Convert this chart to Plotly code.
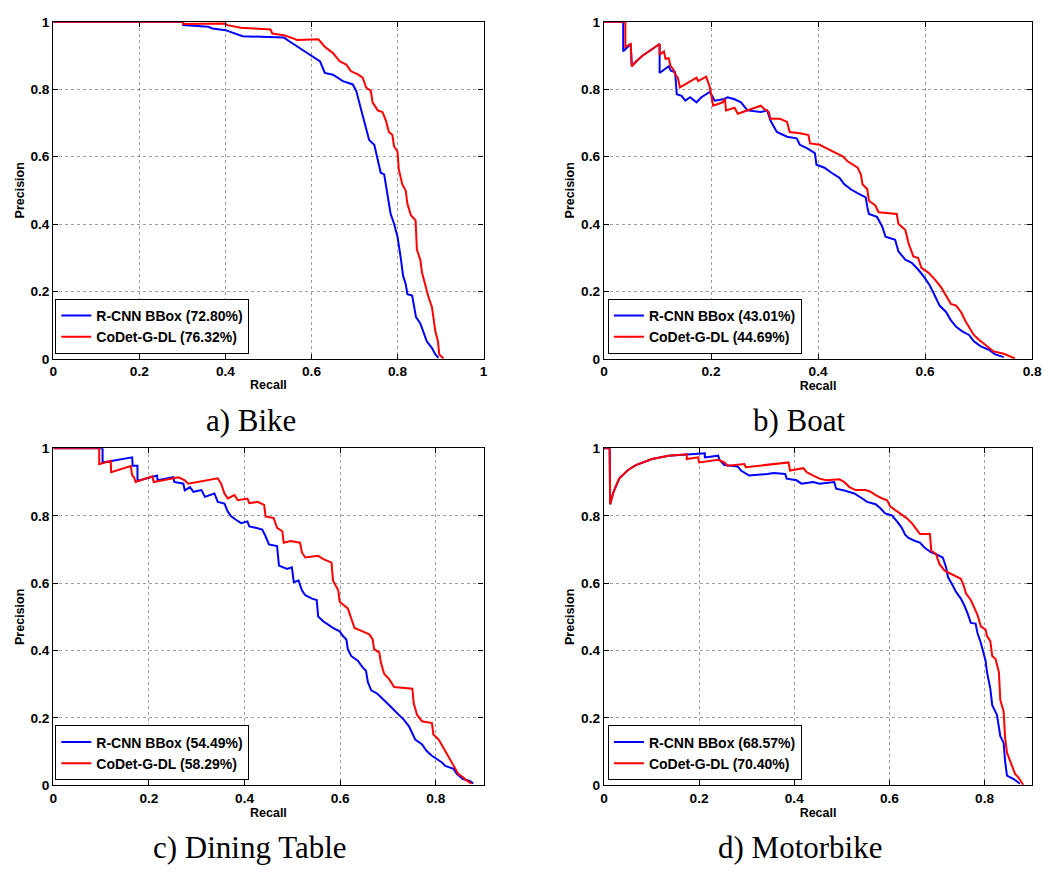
import plotly.graph_objects as go

# ---------------- data ----------------
series_names = ["R-CNN BBox", "CoDet-G-DL"]
ap_bike = ["72.80%", "76.32%"]
ap_boat = ["43.01%", "44.69%"]
ap_table = ["54.49%", "58.29%"]
ap_motor = ["68.57%", "70.40%"]
captions = ["a) Bike", "b) Boat", "c) Dining Table", "d) Motorbike"]

bike_rcnn_recall = [0, 0.302, 0.302, 0.36, 0.37, 0.40, 0.44, 0.536, 0.551, 0.574, 0.6, 0.62, 0.631, 0.65, 0.673, 0.696, 0.704, 0.712, 0.719, 0.727, 0.734, 0.746, 0.754, 0.761, 0.769, 0.777, 0.784, 0.792, 0.8, 0.807, 0.813, 0.819, 0.823, 0.834, 0.838, 0.843, 0.853, 0.861, 0.868, 0.88, 0.888, 0.895]
bike_rcnn_precision = [1, 1, 0.99, 0.985, 0.98, 0.975, 0.957, 0.953, 0.94, 0.921, 0.897, 0.882, 0.848, 0.843, 0.824, 0.814, 0.795, 0.751, 0.722, 0.683, 0.649, 0.635, 0.586, 0.552, 0.547, 0.479, 0.43, 0.401, 0.362, 0.304, 0.246, 0.222, 0.192, 0.188, 0.163, 0.124, 0.105, 0.076, 0.052, 0.032, 0.013, 0.003]
bike_codet_recall = [0, 0.302, 0.302, 0.398, 0.405, 0.436, 0.467, 0.505, 0.509, 0.536, 0.559, 0.566, 0.616, 0.631, 0.65, 0.666, 0.681, 0.692, 0.708, 0.719, 0.727, 0.738, 0.742, 0.754, 0.765, 0.773, 0.78, 0.788, 0.792, 0.8, 0.803, 0.811, 0.819, 0.823, 0.831, 0.842, 0.845, 0.853, 0.857, 0.865, 0.872, 0.88, 0.884, 0.888, 0.894, 0.897, 0.907]
bike_codet_precision = [1, 1, 0.993, 0.995, 0.99, 0.982, 0.98, 0.977, 0.965, 0.96, 0.95, 0.946, 0.948, 0.926, 0.907, 0.882, 0.873, 0.853, 0.844, 0.834, 0.805, 0.795, 0.761, 0.737, 0.732, 0.707, 0.673, 0.664, 0.63, 0.615, 0.562, 0.518, 0.499, 0.46, 0.426, 0.411, 0.324, 0.294, 0.256, 0.217, 0.183, 0.154, 0.12, 0.081, 0.052, 0.013, 0.001]

boat_rcnn_recall = [0, 0.036, 0.036, 0.05, 0.052, 0.06, 0.072, 0.087, 0.104, 0.104, 0.121, 0.125, 0.133, 0.136, 0.145, 0.152, 0.161, 0.173, 0.182, 0.198, 0.207, 0.225, 0.231, 0.244, 0.256, 0.268, 0.293, 0.305, 0.311, 0.323, 0.342, 0.36, 0.366, 0.379, 0.394, 0.397, 0.412, 0.425, 0.44, 0.449, 0.461, 0.477, 0.489, 0.492, 0.495, 0.51, 0.52, 0.526, 0.544, 0.55, 0.563, 0.575, 0.587, 0.599, 0.609, 0.618, 0.627, 0.639, 0.648, 0.658, 0.67, 0.682, 0.691, 0.704, 0.719, 0.731, 0.747]
boat_rcnn_precision = [1, 1, 0.912, 0.934, 0.868, 0.882, 0.899, 0.916, 0.934, 0.848, 0.868, 0.855, 0.85, 0.785, 0.78, 0.766, 0.776, 0.761, 0.776, 0.792, 0.766, 0.771, 0.776, 0.77, 0.761, 0.737, 0.732, 0.737, 0.707, 0.673, 0.659, 0.654, 0.635, 0.625, 0.61, 0.576, 0.567, 0.552, 0.537, 0.518, 0.503, 0.489, 0.479, 0.45, 0.43, 0.421, 0.392, 0.362, 0.353, 0.319, 0.294, 0.285, 0.265, 0.241, 0.217, 0.188, 0.158, 0.139, 0.115, 0.095, 0.081, 0.071, 0.052, 0.037, 0.027, 0.013, 0.005]
boat_codet_recall = [0, 0.04, 0.04, 0.05, 0.052, 0.06, 0.072, 0.087, 0.104, 0.104, 0.112, 0.115, 0.121, 0.124, 0.13, 0.133, 0.138, 0.142, 0.173, 0.176, 0.191, 0.198, 0.204, 0.222, 0.226, 0.228, 0.244, 0.25, 0.293, 0.299, 0.308, 0.311, 0.329, 0.342, 0.347, 0.366, 0.382, 0.385, 0.403, 0.415, 0.428, 0.446, 0.455, 0.464, 0.474, 0.48, 0.483, 0.492, 0.495, 0.507, 0.513, 0.547, 0.55, 0.563, 0.569, 0.578, 0.587, 0.593, 0.606, 0.618, 0.63, 0.639, 0.648, 0.658, 0.667, 0.676, 0.685, 0.691, 0.701, 0.719, 0.728, 0.747, 0.759, 0.768]
boat_codet_precision = [1, 1, 0.925, 0.934, 0.868, 0.882, 0.899, 0.916, 0.934, 0.902, 0.912, 0.89, 0.892, 0.87, 0.858, 0.844, 0.834, 0.805, 0.834, 0.824, 0.837, 0.805, 0.751, 0.761, 0.771, 0.737, 0.745, 0.727, 0.751, 0.742, 0.732, 0.712, 0.712, 0.703, 0.673, 0.669, 0.664, 0.639, 0.635, 0.625, 0.615, 0.601, 0.586, 0.576, 0.567, 0.547, 0.518, 0.503, 0.469, 0.455, 0.435, 0.43, 0.401, 0.382, 0.343, 0.304, 0.299, 0.27, 0.256, 0.236, 0.212, 0.188, 0.163, 0.158, 0.139, 0.11, 0.086, 0.071, 0.056, 0.032, 0.022, 0.015, 0.008, 0.001]

table_rcnn_recall = [0, 0.103, 0.103, 0.165, 0.166, 0.176, 0.176, 0.217, 0.218, 0.251, 0.253, 0.272, 0.275, 0.286, 0.293, 0.31, 0.317, 0.337, 0.344, 0.358, 0.365, 0.372, 0.382, 0.393, 0.406, 0.41, 0.423, 0.437, 0.444, 0.451, 0.468, 0.472, 0.489, 0.499, 0.503, 0.513, 0.52, 0.527, 0.541, 0.551, 0.554, 0.565, 0.575, 0.585, 0.599, 0.606, 0.613, 0.616, 0.623, 0.637, 0.647, 0.654, 0.658, 0.665, 0.678, 0.689, 0.699, 0.709, 0.72, 0.733, 0.744, 0.751, 0.757, 0.771, 0.781, 0.792, 0.802, 0.813, 0.82, 0.837, 0.844, 0.857, 0.868, 0.875, 0.878]
table_rcnn_precision = [1, 1, 0.958, 0.973, 0.948, 0.948, 0.903, 0.919, 0.905, 0.914, 0.9, 0.895, 0.875, 0.885, 0.871, 0.876, 0.856, 0.866, 0.841, 0.836, 0.812, 0.798, 0.788, 0.778, 0.783, 0.768, 0.764, 0.759, 0.739, 0.715, 0.71, 0.652, 0.642, 0.647, 0.603, 0.608, 0.579, 0.564, 0.554, 0.55, 0.501, 0.486, 0.477, 0.467, 0.457, 0.443, 0.433, 0.404, 0.384, 0.37, 0.35, 0.34, 0.306, 0.282, 0.272, 0.258, 0.243, 0.229, 0.214, 0.195, 0.175, 0.156, 0.136, 0.122, 0.102, 0.088, 0.078, 0.068, 0.058, 0.049, 0.034, 0.019, 0.015, 0.01, 0.005]
table_codet_recall = [0, 0.096, 0.096, 0.12, 0.121, 0.162, 0.165, 0.169, 0.172, 0.207, 0.21, 0.262, 0.275, 0.282, 0.344, 0.351, 0.358, 0.365, 0.379, 0.386, 0.406, 0.41, 0.427, 0.441, 0.444, 0.461, 0.468, 0.479, 0.482, 0.496, 0.516, 0.52, 0.527, 0.554, 0.565, 0.582, 0.585, 0.596, 0.599, 0.616, 0.623, 0.63, 0.647, 0.661, 0.668, 0.671, 0.682, 0.685, 0.692, 0.702, 0.713, 0.751, 0.754, 0.761, 0.771, 0.792, 0.795, 0.806, 0.816, 0.826, 0.837, 0.847, 0.857, 0.864, 0.875]
table_codet_precision = [1, 1, 0.953, 0.963, 0.929, 0.947, 0.919, 0.914, 0.9, 0.917, 0.9, 0.914, 0.905, 0.895, 0.911, 0.895, 0.866, 0.851, 0.861, 0.846, 0.851, 0.837, 0.841, 0.832, 0.798, 0.793, 0.764, 0.754, 0.72, 0.725, 0.72, 0.691, 0.676, 0.681, 0.671, 0.661, 0.608, 0.579, 0.545, 0.525, 0.496, 0.467, 0.457, 0.448, 0.433, 0.404, 0.394, 0.365, 0.331, 0.316, 0.292, 0.287, 0.243, 0.209, 0.19, 0.185, 0.151, 0.136, 0.112, 0.088, 0.058, 0.034, 0.024, 0.015, 0.005]

motor_rcnn_recall = [0, 0.012, 0.013, 0.02, 0.032, 0.05, 0.067, 0.085, 0.101, 0.136, 0.177, 0.212, 0.212, 0.24, 0.243, 0.253, 0.267, 0.281, 0.288, 0.305, 0.343, 0.357, 0.381, 0.384, 0.405, 0.415, 0.44, 0.453, 0.484, 0.488, 0.505, 0.526, 0.543, 0.553, 0.571, 0.581, 0.591, 0.605, 0.616, 0.626, 0.633, 0.64, 0.654, 0.664, 0.674, 0.688, 0.698, 0.712, 0.719, 0.723, 0.733, 0.74, 0.75, 0.757, 0.764, 0.771, 0.781, 0.785, 0.792, 0.799, 0.802, 0.805, 0.812, 0.816, 0.826, 0.833, 0.84, 0.843, 0.847, 0.861, 0.871, 0.874]
motor_rcnn_precision = [1, 1, 0.834, 0.87, 0.91, 0.935, 0.95, 0.96, 0.968, 0.978, 0.982, 0.985, 0.973, 0.978, 0.965, 0.95, 0.948, 0.946, 0.934, 0.919, 0.924, 0.927, 0.924, 0.91, 0.905, 0.895, 0.9, 0.895, 0.9, 0.88, 0.875, 0.866, 0.851, 0.841, 0.834, 0.822, 0.807, 0.801, 0.783, 0.764, 0.744, 0.734, 0.725, 0.72, 0.705, 0.691, 0.686, 0.676, 0.647, 0.618, 0.593, 0.574, 0.554, 0.535, 0.511, 0.482, 0.48, 0.452, 0.423, 0.384, 0.37, 0.336, 0.287, 0.238, 0.209, 0.146, 0.126, 0.073, 0.029, 0.019, 0.01, 0.005]
motor_codet_recall = [0, 0.012, 0.013, 0.02, 0.032, 0.05, 0.067, 0.085, 0.101, 0.136, 0.174, 0.174, 0.198, 0.2, 0.24, 0.253, 0.26, 0.295, 0.298, 0.388, 0.391, 0.419, 0.426, 0.44, 0.453, 0.467, 0.495, 0.505, 0.516, 0.529, 0.55, 0.56, 0.571, 0.585, 0.595, 0.602, 0.612, 0.626, 0.636, 0.647, 0.654, 0.664, 0.685, 0.688, 0.698, 0.705, 0.716, 0.73, 0.75, 0.756, 0.761, 0.771, 0.778, 0.785, 0.792, 0.802, 0.805, 0.812, 0.816, 0.823, 0.83, 0.833, 0.84, 0.843, 0.847, 0.854, 0.864, 0.871, 0.878, 0.881]
motor_codet_precision = [1, 1, 0.834, 0.87, 0.91, 0.935, 0.95, 0.96, 0.968, 0.978, 0.982, 0.968, 0.973, 0.958, 0.966, 0.958, 0.948, 0.953, 0.944, 0.958, 0.934, 0.941, 0.929, 0.919, 0.91, 0.905, 0.908, 0.9, 0.885, 0.876, 0.876, 0.871, 0.861, 0.851, 0.846, 0.827, 0.817, 0.803, 0.793, 0.778, 0.764, 0.746, 0.746, 0.696, 0.686, 0.657, 0.637, 0.627, 0.613, 0.593, 0.569, 0.55, 0.525, 0.506, 0.472, 0.462, 0.443, 0.428, 0.384, 0.375, 0.336, 0.253, 0.219, 0.141, 0.097, 0.073, 0.034, 0.024, 0.01, 0.002]

x_ranges = [[0, 1], [0, 0.8], [0, 0.9], [0, 0.9]]

# ---------------- layout geometry ----------------
W, H = 1057, 873
panels_px = [  # left, right, top, bottom in pixels
    (50, 486, 15, 358),
    (608, 1042, 15, 358),
    (50, 486, 449, 792),
    (608, 1042, 449, 792),
]
legend_px = [(52, 353), (612, 353), (52, 787), (612, 787)]  # left, bottom
caption_px = [(250, 421), (806, 421), (249, 855), (807, 855)]

panel_data = [
    (bike_rcnn_recall, bike_rcnn_precision, bike_codet_recall, bike_codet_precision, ap_bike),
    (boat_rcnn_recall, boat_rcnn_precision, boat_codet_recall, boat_codet_precision, ap_boat),
    (table_rcnn_recall, table_rcnn_precision, table_codet_recall, table_codet_precision, ap_table),
    (motor_rcnn_recall, motor_rcnn_precision, motor_codet_recall, motor_codet_precision, ap_motor),
]

SANS = "Liberation Sans, Arial, Helvetica, sans-serif"
fig = go.Figure()
layout = {}
annotations = []

for i, (rx, ry, cx, cy, ap) in enumerate(panel_data):
    n = "" if i == 0 else str(i + 1)
    xa, ya = "x" + n, "y" + n
    leg = "legend" + n
    fig.add_trace(go.Scatter(x=rx, y=ry, mode="lines", xaxis=xa, yaxis=ya,
                             line=dict(color="#0000ff", width=2),
                             name=f"{series_names[0]} ({ap[0]})", legend=leg))
    fig.add_trace(go.Scatter(x=cx, y=cy, mode="lines", xaxis=xa, yaxis=ya,
                             line=dict(color="#ff0000", width=2),
                             name=f"{series_names[1]} ({ap[1]})", legend=leg))
    l, r, t, b = panels_px[i]
    common = dict(showline=True, linecolor="black", linewidth=1.2, mirror="ticks",
                  ticks="inside", ticklen=5, tickcolor="black", tickwidth=1,
                  showgrid=True, gridcolor="rgba(0,0,0,0.38)", griddash="dot", gridwidth=1,
                  zeroline=False, dtick=0.2, tick0=0,
                  tickfont=dict(family=SANS, size=13.7, color="black", weight="bold"))
    layout["xaxis" + n] = dict(common, domain=[l / W, r / W], range=x_ranges[i], anchor=ya,
                               title=dict(text="Recall", standoff=1,
                                          font=dict(family=SANS, size=12.5, color="black", weight="bold")))
    layout["yaxis" + n] = dict(common, domain=[1 - b / H, 1 - t / H], range=[0, 1], anchor=xa,
                               title=dict(text="Precision", standoff=3,
                                          font=dict(family=SANS, size=12.5, color="black", weight="bold")))
    lx, ly = legend_px[i]
    layout[leg] = dict(x=lx / W, y=1 - ly / H, xanchor="left", yanchor="bottom",
                       bgcolor="white", bordercolor="black", borderwidth=1,
                       font=dict(family=SANS, size=14, color="black", weight="bold"),
                       itemwidth=30, tracegroupgap=0)
    capx, capy = caption_px[i]
    annotations.append(dict(text=captions[i], x=capx / W, y=1 - capy / H, xref="paper", yref="paper",
                            xanchor="center", yanchor="middle", showarrow=False,
                            font=dict(family="Liberation Serif, Times New Roman, serif", size=31, color="black")))

fig.update_layout(width=W, height=H, margin=dict(l=0, r=0, t=0, b=0),
                  paper_bgcolor="white", plot_bgcolor="white",
                  annotations=annotations, **layout)
fig.write_html("out.html")
